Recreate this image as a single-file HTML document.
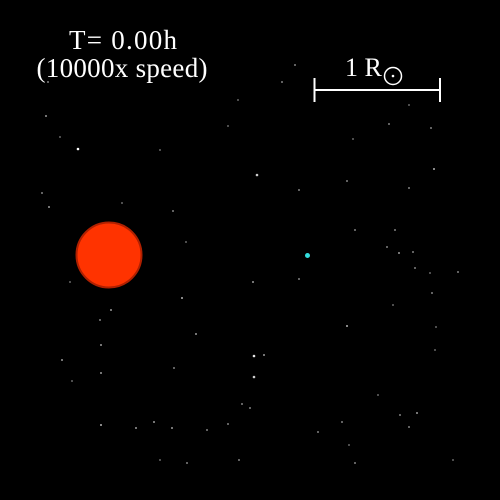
<!DOCTYPE html>
<html><head><meta charset="utf-8"><style>
html,body{margin:0;padding:0;background:#000;}
svg{display:block;}
text{font-family:"Liberation Serif",serif;fill:#fff;}
</style></head><body>
<svg width="500" height="500" viewBox="0 0 500 500">
<rect width="500" height="500" fill="#000"/>
<g id="stars"></g>
<text x="123" y="49" font-size="27" text-anchor="middle" textLength="108">T= 0.00h</text>
<text x="122" y="77" font-size="27" text-anchor="middle" textLength="171">(10000x speed)</text>
<g>
<line x1="314" y1="90" x2="440" y2="90" stroke="#fff" stroke-width="2"/>
<line x1="314.5" y1="78" x2="314.5" y2="102" stroke="#fff" stroke-width="2"/>
<line x1="440" y1="78" x2="440" y2="102" stroke="#fff" stroke-width="2"/>
<text x="345" y="76" font-size="26">1 R</text>
<circle cx="393" cy="76" r="8.5" fill="none" stroke="#fff" stroke-width="1.5"/>
<circle cx="393" cy="76" r="1.3" fill="#fff"/>
</g>
<circle cx="109" cy="255" r="32.5" fill="#ff3300" stroke="#b02000" stroke-width="2"/>
<circle cx="307.5" cy="255.5" r="2.5" fill="#33dddd"/>
</svg>
<script>
const starX=[48,78,46,60,49,42,122,173,257,299,347,409,434,431,389,282,238,228,160,186,182,196,174,100,111,70,62,72,101,101,172,228,254,264,254,242,250,207,101,136,154,160,187,239,318,342,349,355,378,400,409,417,393,432,458,430,436,415,413,399,387,395,355,347,353,299,295,253,453,435,409];
const starY=[82,149,116,137,207,193,203,211,175,190,181,188,169,128,124,82,100,126,150,242,298,334,368,320,310,282,360,381,345,373,428,424,356,355,377,404,408,430,425,428,422,460,463,460,432,422,445,463,395,415,427,413,305,293,272,273,327,268,252,253,247,230,230,326,139,279,65,282,460,350,105];
const starB=[0.5,1,0.6,0.4,0.6,0.5,0.4,0.5,0.8,0.5,0.5,0.5,0.7,0.5,0.5,0.5,0.4,0.4,0.4,0.4,0.7,0.6,0.5,0.5,0.6,0.4,0.6,0.4,0.6,0.6,0.6,0.5,0.9,0.6,0.8,0.5,0.5,0.5,0.7,0.6,0.6,0.4,0.5,0.5,0.5,0.5,0.4,0.5,0.4,0.5,0.5,0.6,0.4,0.5,0.5,0.4,0.4,0.5,0.5,0.6,0.5,0.5,0.5,0.7,0.4,0.5,0.5,0.6,0.4,0.4,0.4];
const g=document.getElementById('stars');
for(let i=0;i<starX.length;i++){
  const c=document.createElementNS('http://www.w3.org/2000/svg','circle');
  c.setAttribute('cx',starX[i]);c.setAttribute('cy',starY[i]);
  c.setAttribute('r',starB[i]>0.75?1.3:1);
  c.setAttribute('fill','#fff');c.setAttribute('fill-opacity',starB[i]);
  
  
  g.appendChild(c);
}
</script>
</body></html>
